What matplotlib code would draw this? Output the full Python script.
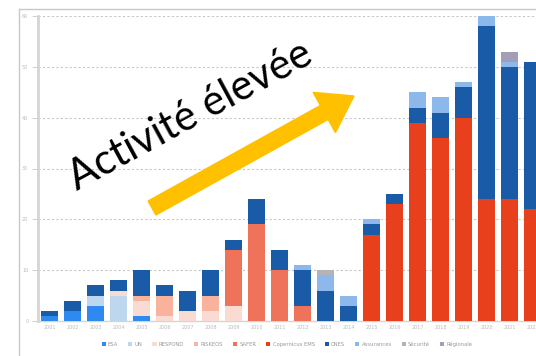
import matplotlib
matplotlib.use("Agg")
import matplotlib.pyplot as plt
import numpy as np
from matplotlib.patches import FancyArrow
from matplotlib.lines import Line2D
from matplotlib.transforms import IdentityTransform

years = [str(y) for y in range(2001, 2023)]
series_names = ["ESA", "UN", "RESPOND", "RISKEOS", "SAFER", "Copernicus EMS",
                "CNES", "Assurances", "Sécurité", "Régionale"]
colors = ["#2E8AF0", "#BDD7EE", "#FADBD2", "#F9B29C", "#EE735A", "#E8401C",
          "#1A5BA8", "#8DB8EC", "#B4B4B4", "#A39DB8"]

esa        = [1, 2, 3, 0, 1, 0, 0, 0, 0, 0, 0, 0, 0, 0, 0, 0, 0, 0, 0, 0, 0, 0]
un         = [0, 0, 2, 5, 0, 0, 0, 0, 0, 0, 0, 0, 0, 0, 0, 0, 0, 0, 0, 0, 0, 0]
respond    = [0, 0, 0, 1, 3, 1, 2, 2, 3, 0, 0, 0, 0, 0, 0, 0, 0, 0, 0, 0, 0, 0]
riskeos    = [0, 0, 0, 0, 1, 4, 0, 3, 0, 0, 0, 0, 0, 0, 0, 0, 0, 0, 0, 0, 0, 0]
safer      = [0, 0, 0, 0, 0, 0, 0, 0, 11, 19, 10, 3, 0, 0, 0, 0, 0, 0, 0, 0, 0, 0]
copernicus = [0, 0, 0, 0, 0, 0, 0, 0, 0, 0, 0, 0, 0, 0, 17, 23, 39, 36, 40, 24, 24, 22]
cnes       = [1, 2, 2, 2, 5, 2, 4, 5, 2, 5, 4, 7, 6, 3, 2, 2, 3, 5, 6, 34, 26, 29]
assurances = [0, 0, 0, 0, 0, 0, 0, 0, 0, 0, 0, 1, 3, 2, 1, 0, 3, 3, 1, 2, 1, 0]
securite   = [0, 0, 0, 0, 0, 0, 0, 0, 0, 0, 0, 0, 1, 0, 0, 0, 0, 0, 0, 0, 0, 0]
regionale  = [0, 0, 0, 0, 0, 0, 0, 0, 0, 0, 0, 0, 0, 0, 0, 0, 0, 0, 0, 0, 2, 0]
series = [esa, un, respond, riskeos, safer, copernicus, cnes, assurances, securite, regionale]

W, H = 536, 356
fig = plt.figure(figsize=(W / 100, H / 100), dpi=100)
fig.patch.set_facecolor("white")

# outer chart border
fig.add_artist(Line2D([19 / W, 1.0], [1 - 9 / H, 1 - 9 / H], transform=fig.transFigure,
                      color="#C8C8C8", lw=1))
fig.add_artist(Line2D([19 / W, 19 / W], [0, 1 - 9 / H], transform=fig.transFigure,
                      color="#C8C8C8", lw=1))

ax_left, ax_right = 38 / W, 544 / W
ax_bot, ax_top = (H - 321) / H, (H - 16) / H
ax = fig.add_axes([ax_left, ax_bot, ax_right - ax_left, ax_top - ax_bot])

x = np.arange(1, len(years) + 1)
bottom = np.zeros(len(years))
for name, vals, c in zip(series_names, series, colors):
    v = np.array(vals, dtype=float)
    ax.bar(x, v, bottom=bottom, width=0.73, color=c, label=name, zorder=3, linewidth=0)
    bottom += v

ax.set_xlim(0.5, len(years) + 0.5)
ax.set_ylim(0, 60)
ax.set_yticks(range(0, 61, 10))
ax.set_xticks(x)
ax.set_xticklabels(years)
ax.tick_params(axis="both", labelsize=3.5, colors="#BBBBBB", length=0, pad=3)
ax.tick_params(axis="y", length=4, width=0.6, color="#C8C8C8", pad=3)
ax.grid(axis="y", linestyle=(0, (2, 2)), color="#C8C8C8", lw=0.8, zorder=0)
for s in ["top", "right"]:
    ax.spines[s].set_visible(False)
ax.spines["left"].set_color("#D5D5D5")
ax.spines["left"].set_linewidth(2)
ax.spines["bottom"].set_color("#D5D5D5")
ax.spines["bottom"].set_linewidth(1)

leg = fig.legend(loc="center", bbox_to_anchor=(287 / W, 1 - 344 / H), ncol=10,
                 frameon=False, fontsize=3.8, handlelength=0.8, handleheight=0.8,
                 handletextpad=0.4, columnspacing=1.9, labelcolor="#999999")

# arrow (pixel coordinates, origin bottom-left)
tail = (152, H - 208)
tip = (354, H - 96)
dx, dy = tip[0] - tail[0], tip[1] - tail[1]
arrow = FancyArrow(tail[0], tail[1], dx, dy, width=16, head_width=46, head_length=34,
                   length_includes_head=True, color="#FFC000", transform=IdentityTransform(),
                   zorder=10)
fig.add_artist(arrow)

fig.text(190 / W, 1 - 116 / H, "Activité élevée", fontsize=30, family="Lato",
         rotation=28.5, rotation_mode="anchor", ha="center", va="center", color="black",
         zorder=11)

fig.savefig("out.png", dpi=100)
